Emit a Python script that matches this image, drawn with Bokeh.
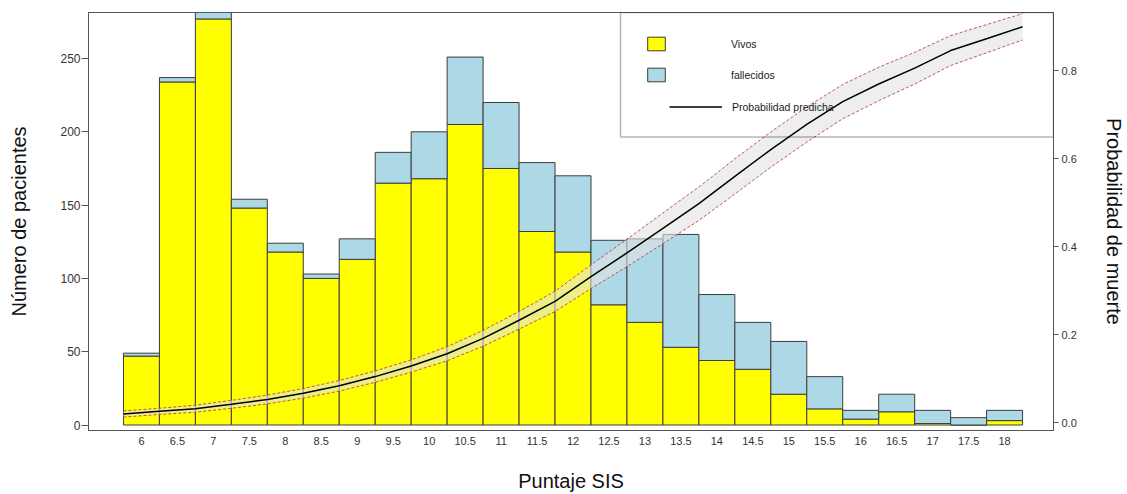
from bokeh.plotting import figure
from bokeh.models import (ColumnDataSource, Range1d, LinearAxis, FixedTicker,
                          PrintfTickFormatter, Legend, LegendItem, BoxAnnotation)
from bokeh.embed import file_html
from bokeh.resources import INLINE

# ---- data ----
sis = [6.0, 6.5, 7.0, 7.5, 8.0, 8.5, 9.0, 9.5, 10.0, 10.5, 11.0, 11.5, 12.0,
       12.5, 13.0, 13.5, 14.0, 14.5, 15.0, 15.5, 16.0, 16.5, 17.0, 17.5, 18.0]
sis_labels = ["6", "6.5", "7", "7.5", "8", "8.5", "9", "9.5", "10", "10.5", "11",
              "11.5", "12", "12.5", "13", "13.5", "14", "14.5", "15", "15.5", "16",
              "16.5", "17", "17.5", "18"]
vivos = [47, 234, 277, 148, 118, 100, 113, 165, 168, 205, 175, 132, 118,
         82, 70, 53, 44, 38, 21, 11, 4, 9, 1, 0, 3]
fallecidos = [2, 3, 8, 6, 6, 3, 14, 21, 32, 46, 45, 47, 52,
              44, 57, 77, 45, 32, 36, 22, 6, 12, 9, 5, 7]

prob_x = [5.75, 6.25, 6.75, 7.25, 7.75, 8.25, 8.75, 9.25, 9.75, 10.25, 10.75,
          11.25, 11.75, 12.25, 12.75, 13.25, 13.75, 14.25, 14.75, 15.25, 15.75,
          16.25, 16.75, 17.25, 17.75, 18.25]
prob = [0.020, 0.026, 0.032, 0.042, 0.053, 0.067, 0.084, 0.105, 0.129, 0.157,
        0.192, 0.233, 0.276, 0.332, 0.386, 0.442, 0.498, 0.560, 0.621, 0.678,
        0.730, 0.770, 0.806, 0.846, 0.873, 0.900]
prob_lo = [0.013, 0.019, 0.024, 0.033, 0.043, 0.056, 0.072, 0.092, 0.115, 0.141,
           0.174, 0.213, 0.253, 0.305, 0.355, 0.407, 0.460, 0.520, 0.581, 0.638,
           0.691, 0.732, 0.770, 0.812, 0.841, 0.870]
prob_hi = [0.027, 0.033, 0.040, 0.051, 0.063, 0.078, 0.096, 0.118, 0.143, 0.173,
           0.210, 0.253, 0.299, 0.359, 0.417, 0.477, 0.536, 0.600, 0.661, 0.718,
           0.769, 0.808, 0.842, 0.880, 0.905, 0.930]

left_ticks = [0, 50, 100, 150, 200, 250]
right_ticks = [0.0, 0.2, 0.4, 0.6, 0.8]

FONT = "Liberation Sans"

p = figure(width=1127, height=494,
           x_range=Range1d(5.264, 18.68), y_range=Range1d(-3.75, 281.4),
           output_backend="svg", toolbar_location=None,
           min_border_left=88, min_border_right=72,
           min_border_top=12, min_border_bottom=64)
p.extra_y_ranges = {"prob": Range1d(-0.0175, 0.9325)}
p.xgrid.grid_line_color = None
p.ygrid.grid_line_color = None
p.outline_line_color = "#555555"
p.outline_line_alpha = 1.0

src = ColumnDataSource(dict(sis=sis, vivos=vivos, fallecidos=fallecidos))
r_v, r_f = p.vbar_stack(["vivos", "fallecidos"], x="sis", width=0.5,
                        fill_color=["#ffff00", "#add8e6"],
                        line_color="#3c3c3c", line_width=1, source=src)

p.varea(x=prob_x, y1=prob_lo, y2=prob_hi, y_range_name="prob",
        fill_color="#e2e2e2", fill_alpha=0.6)
p.line(prob_x, prob_lo, y_range_name="prob", line_color="#b83a3a",
       line_dash="3 2", line_width=1, line_alpha=0.85)
p.line(prob_x, prob_hi, y_range_name="prob", line_color="#b83a3a",
       line_dash="3 2", line_width=1, line_alpha=0.85)
r_line = p.line(prob_x, prob, y_range_name="prob", line_color="black",
                line_width=1.5)

# bottom axis
xa = p.xaxis[0]
xa.ticker = FixedTicker(ticks=sis)
xa.major_label_overrides = dict(zip(sis, sis_labels))
xa.major_tick_out = 0
xa.major_tick_in = 0
xa.minor_tick_line_color = None
xa.major_label_standoff = 6
xa.major_label_text_font = FONT
xa.major_label_text_font_size = "11px"
xa.major_label_text_color = "#333333"
xa.axis_label = "Puntaje SIS"
xa.axis_label_text_font = FONT
xa.axis_label_text_font_size = "20px"
xa.axis_label_text_font_style = "normal"
xa.axis_label_text_color = "#111111"
xa.axis_label_standoff = 22
xa.axis_line_color = "#555555"

# left axis
ya = p.yaxis[0]
ya.ticker = FixedTicker(ticks=left_ticks)
ya.major_tick_out = 7
ya.major_tick_in = 0
ya.minor_tick_line_color = None
ya.major_tick_line_color = "#555555"
ya.major_label_standoff = 1
ya.major_label_text_font = FONT
ya.major_label_text_font_size = "12px"
ya.major_label_text_color = "#333333"
ya.axis_label = "Número de pacientes"
ya.axis_label_text_font = FONT
ya.axis_label_text_font_size = "20px"
ya.axis_label_text_font_style = "normal"
ya.axis_label_text_color = "#111111"
ya.axis_label_standoff = 27
ya.axis_line_color = "#555555"

# right axis
ra = LinearAxis(y_range_name="prob", ticker=FixedTicker(ticks=right_ticks),
                formatter=PrintfTickFormatter(format="%.1f"),
                axis_label="Probabilidad de muerte")
ra.major_tick_out = 5
ra.major_tick_in = 0
ra.minor_tick_line_color = None
ra.major_tick_line_color = "#555555"
ra.major_label_standoff = 3
ra.major_label_text_font = FONT
ra.major_label_text_font_size = "11px"
ra.major_label_text_color = "#333333"
ra.axis_label_text_font = FONT
ra.axis_label_text_font_size = "20px"
ra.axis_label_text_font_style = "normal"
ra.axis_label_text_color = "#111111"
ra.axis_label_standoff = 23
ra.axis_line_color = "#555555"
p.add_layout(ra, "right")

# legend box
box = BoxAnnotation(left=12.66, right=18.68, bottom=196.4, top=281.4,
                    fill_color=None, fill_alpha=0, line_color="#111111",
                    line_width=1.5)
p.add_layout(box)

leg1 = Legend(items=[LegendItem(label="Vivos", renderers=[r_v]),
                     LegendItem(label="fallecidos", renderers=[r_f])],
              location=(557, 347), orientation="vertical",
              glyph_width=22, glyph_height=17, label_height=17,
              label_standoff=64, spacing=14, padding=0, margin=0,
              border_line_color=None, background_fill_alpha=0,
              label_text_font=FONT, label_text_font_size="10.5px",
              label_text_color="#222222")
leg2 = Legend(items=[LegendItem(label="Probabilidad predicha", renderers=[r_line])],
              location=(581, 315), orientation="vertical",
              glyph_width=53, glyph_height=17, label_height=17,
              label_standoff=10, padding=0, margin=0,
              border_line_color=None, background_fill_alpha=0,
              label_text_font=FONT, label_text_font_size="10.5px",
              label_text_color="#222222")
p.add_layout(leg1)
p.add_layout(leg2)

open("out.html", "w").write(file_html(p, INLINE))
